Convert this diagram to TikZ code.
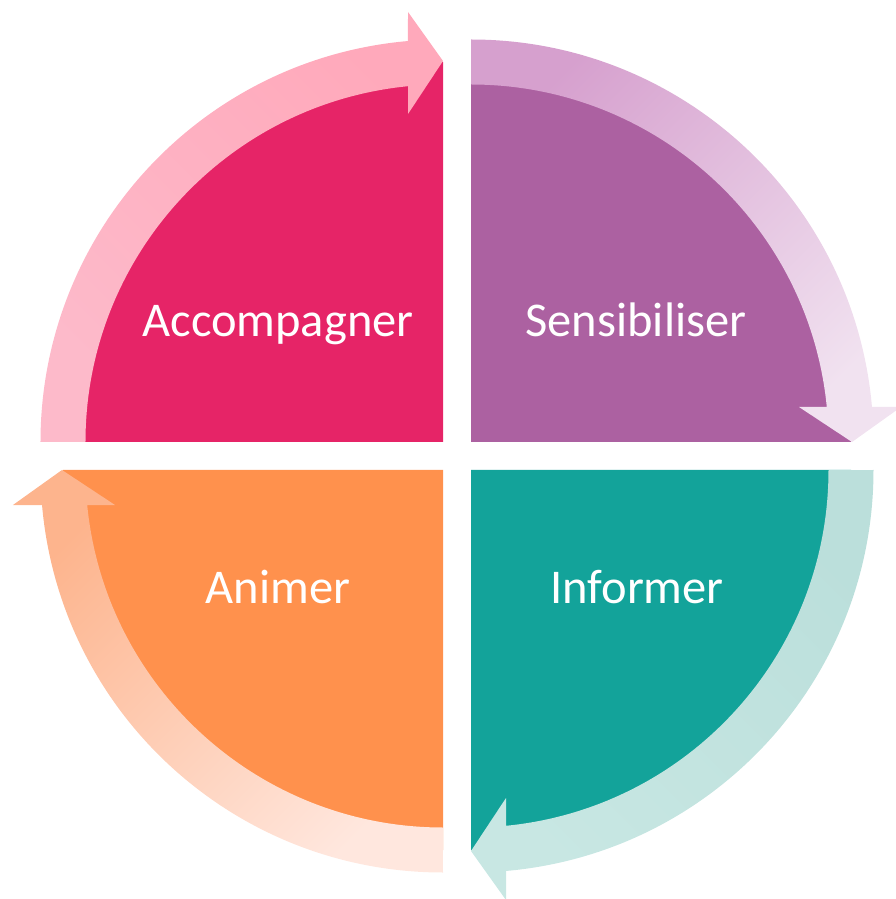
\documentclass[tikz,border=0pt]{standalone}
\usepackage{fontspec}
\setmainfont{Carlito}
\definecolor{pinkpie}{HTML}{E62467}
\definecolor{purplepie}{HTML}{AC61A1}
\definecolor{tealpie}{HTML}{13A39A}
\definecolor{orangepie}{HTML}{FF914D}
\definecolor{pinkheadcol}{HTML}{FFA9BB}
\definecolor{pinktailcol}{HTML}{FDBACA}
\definecolor{purpletailcol}{HTML}{D6A0CE}
\definecolor{purpleheadcol}{HTML}{F1E2F0}
\definecolor{tealtailcol}{HTML}{BBDFDB}
\definecolor{tealheadcol}{HTML}{C8E7E3}
\definecolor{orangeheadcol}{HTML}{FDB48D}
\definecolor{orangetailcol}{HTML}{FFE7DE}
\tikzset{quadtext/.style={text=white, anchor=base, font=\fontsize{48.5}{58}\selectfont}}

\begin{document}
\begin{tikzpicture}[x=1pt,y=1pt]
\useasboundingbox (-457,-443) rectangle (438,456);

% quarters
\fill[pinkpie] (-14,14) -- ++(-380,0) arc[start angle=180,end angle=90,radius=380] -- cycle;
\fill[purplepie] (14,14) -- ++(0,380) arc[start angle=90,end angle=0,radius=380] -- cycle;
\fill[tealpie] (14,-14) -- ++(380,0) arc[start angle=0,end angle=-90,radius=380] -- cycle;
\fill[orangepie] (-14,-14) -- ++(0,-380) arc[start angle=270,end angle=180,radius=380] -- cycle;

% arrows round the quarters
\shade[shift={(-14,14)}, top color=pinkheadcol, bottom color=pinktailcol, shading angle=-45]
  (-402.5,0) arc[start angle=180,end angle=94.99,radius=402.5]
  -- (-35,430) -- (0,381) -- (-35,328) -- (-35,355.8)
  arc[start angle=95.62,end angle=180,radius=357.5] -- cycle;
\shade[shift={(14,14)}, top color=purpletailcol, bottom color=purpleheadcol, shading angle=45]
  (0,402.5) arc[start angle=90,end angle=4.99,radius=402.5]
  -- (430,35) -- (381,0) -- (328,35) -- (355.8,35)
  arc[start angle=5.62,end angle=90,radius=357.5] -- cycle;
\shade[shift={(14,-14)}, top color=tealtailcol, bottom color=tealheadcol, shading angle=-45]
  (402.5,0) arc[start angle=0,end angle=-85.01,radius=402.5]
  -- (35,-430) -- (0,-381) -- (35,-328) -- (35,-355.8)
  arc[start angle=-84.38,end angle=0,radius=357.5] -- cycle;
\shade[shift={(-14,-14)}, top color=orangeheadcol, bottom color=orangetailcol, shading angle=45]
  (0,-402.5) arc[start angle=270,end angle=184.99,radius=402.5]
  -- (-430,-35) -- (-381,0) -- (-328,-35) -- (-355.8,-35)
  arc[start angle=185.62,end angle=270,radius=357.5] -- cycle;

% labels
\node[quadtext] (acc) at (-179,119) {Accompagner};
\node[quadtext] (sens) at (179,119) {Sensibiliser};
\node[quadtext] (inf) at (180,-147) {Informer};
\node[quadtext] (anim) at (-179,-147) {Animer};
\end{tikzpicture}
\end{document}
